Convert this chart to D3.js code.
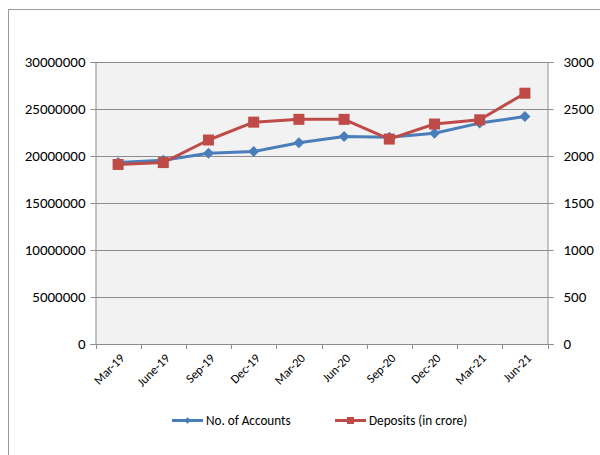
<!DOCTYPE html>
<html>
<head>
<meta charset="utf-8">
<script src="https://cdn.jsdelivr.net/npm/d3@7"></script>
<style>
  html, body { margin: 0; padding: 0; background: #fff; }
  svg { display: block; }
  text { font-family: Carlito, Calibri, Lato, "Open Sans", sans-serif; fill: #000; }
</style>
</head>
<body>
<svg id="chart" width="600" height="455"></svg>
<script>
const categories = ["Mar-19", "June-19", "Sep-19", "Dec-19", "Mar-20", "Jun-20", "Sep-20", "Dec-20", "Mar-21", "Jun-21"];
const accounts = [19300000, 19550000, 20300000, 20480000, 21400000, 22080000, 22000000, 22420000, 23500000, 24200000];
const deposits = [1910, 1930, 2170, 2360, 2390, 2390, 2180, 2340, 2385, 2668];
const leftTicks = [0, 5000000, 10000000, 15000000, 20000000, 25000000, 30000000];
const rightTicks = [0, 500, 1000, 1500, 2000, 2500, 3000];
const seriesNames = ["No. of Accounts", "Deposits (in crore)"];

const svg = d3.select("#chart");
const m = { left: 95.5, right: 547.5, top: 62, bottom: 344 };
const blue = "#4a7ebb", red = "#be4b48", gridCol = "#8c8c8c";

// outer chart border
svg.append("rect").attr("x", 8.5).attr("y", 9.5).attr("width", 620).attr("height", 480)
  .attr("fill", "#fff").attr("stroke", "#9a9a9a").attr("stroke-width", 1);

const x = d3.scaleBand().domain(categories).range([m.left, m.right]).padding(0);
const yL = d3.scaleLinear().domain([0, 30000000]).range([m.bottom, m.top]);
const yR = d3.scaleLinear().domain([0, 3000]).range([m.bottom, m.top]);

// plot area
svg.append("rect").attr("x", m.left).attr("y", m.top)
  .attr("width", m.right - m.left).attr("height", m.bottom - m.top).attr("fill", "#f2f2f2");

// gridlines
svg.append("g").selectAll("line").data(leftTicks).join("line")
  .attr("x1", m.left).attr("x2", m.right)
  .attr("y1", d => Math.round(yL(d)) + 0.5).attr("y2", d => Math.round(yL(d)) + 0.5)
  .attr("stroke", gridCol).attr("stroke-width", 1);

// left axis
const axL = svg.append("g").attr("transform", `translate(${m.left},0)`)
  .call(d3.axisLeft(yL).tickValues(leftTicks).tickFormat(d3.format("d")).tickSize(5).tickPadding(5));
axL.selectAll("path, line").attr("stroke", gridCol);
axL.selectAll("text").style("font-size", "15px").attr("fill", "#000");

// right axis
const axR = svg.append("g").attr("transform", `translate(${m.right},0)`)
  .call(d3.axisRight(yR).tickValues(rightTicks).tickFormat(d3.format("d")).tickSize(6).tickPadding(10));
axR.selectAll("path, line").attr("stroke", gridCol);
axR.selectAll("text").style("font-size", "15px").attr("fill", "#000");

// bottom axis
const axB = svg.append("g").attr("transform", `translate(0,${m.bottom})`);
axB.append("line").attr("x1", m.left).attr("x2", m.right + 6).attr("y1", 0.5).attr("y2", 0.5).attr("stroke", gridCol);
const bounds = categories.map(c => x(c)).concat([m.right]);
axB.selectAll("line.tk").data(bounds).join("line").attr("class", "tk")
  .attr("x1", d => Math.round(d) + 0.5).attr("x2", d => Math.round(d) + 0.5)
  .attr("y1", 0).attr("y2", 5).attr("stroke", gridCol);
axB.selectAll("text").data(categories).join("text")
  .attr("transform", d => `translate(${x(d) + x.bandwidth() / 2 + 4},${12}) rotate(-45)`)
  .attr("text-anchor", "end").attr("dy", "0.35em")
  .style("font-size", "12.5px").text(d => d);

// lines
const cx = c => x(c) + x.bandwidth() / 2;
const lineL = d3.line().x((d, i) => cx(categories[i])).y(d => yL(d));
const lineR = d3.line().x((d, i) => cx(categories[i])).y(d => yR(d));

svg.append("path").datum(accounts).attr("d", lineL).attr("fill", "none")
  .attr("stroke", blue).attr("stroke-width", 3).attr("stroke-linejoin", "round");
svg.append("g").selectAll("path").data(accounts).join("path")
  .attr("transform", (d, i) => `translate(${cx(categories[i])},${yL(d)}) rotate(45)`)
  .attr("d", d3.symbol().type(d3.symbolSquare).size(60)).attr("fill", blue);

svg.append("path").datum(deposits).attr("d", lineR).attr("fill", "none")
  .attr("stroke", red).attr("stroke-width", 3).attr("stroke-linejoin", "round");
svg.append("g").selectAll("rect").data(deposits).join("rect")
  .attr("x", (d, i) => cx(categories[i]) - 5.5).attr("y", d => yR(d) - 5.5)
  .attr("width", 11).attr("height", 11).attr("fill", red);

// legend
const lg = svg.append("g");
const legendItems = [
  { name: seriesNames[0], color: blue, x0: 172, type: "diamond" },
  { name: seriesNames[1], color: red, x0: 335, type: "square" }
];
const ly = 420.5;
legendItems.forEach(it => {
  lg.append("line").attr("x1", it.x0).attr("x2", it.x0 + 31).attr("y1", ly).attr("y2", ly)
    .attr("stroke", it.color).attr("stroke-width", 3);
  if (it.type === "diamond") {
    lg.append("path").attr("transform", `translate(${it.x0 + 15.5},${ly}) rotate(45)`)
      .attr("d", d3.symbol().type(d3.symbolSquare).size(22)).attr("fill", it.color);
  } else {
    lg.append("rect").attr("x", it.x0 + 12).attr("y", ly - 3.5).attr("width", 7).attr("height", 7).attr("fill", it.color);
  }
  lg.append("text").attr("x", it.x0 + 34).attr("y", ly).attr("dy", "0.35em")
    .style("font-size", "13.2px").text(it.name);
});
</script>
</body>
</html>
